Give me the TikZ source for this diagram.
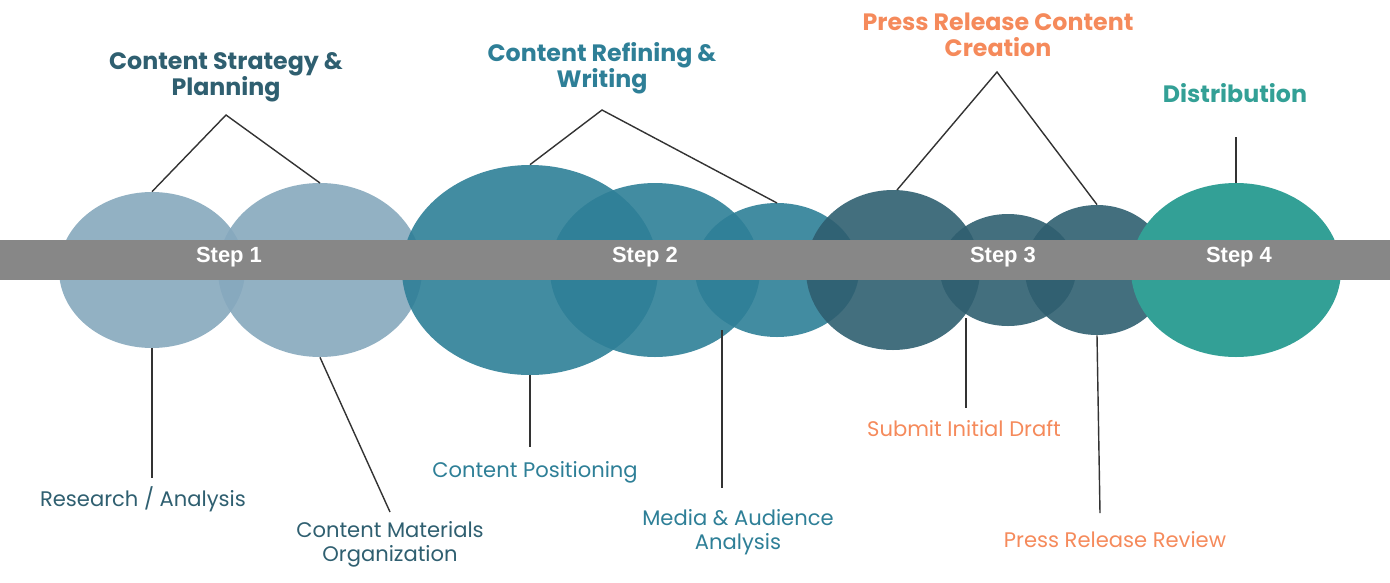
\documentclass[tikz,border=0pt]{standalone}
\usepackage{fontspec}
\setmainfont{Poppins}
\newfontfamily\stepfont{Liberation Sans}
\usetikzlibrary{shapes.geometric,positioning}
\definecolor{stone}{HTML}{86A8BD}
\definecolor{teal}{HTML}{2E7F97}
\definecolor{slate}{HTML}{2F5F70}
\definecolor{mint}{HTML}{33A096}
\definecolor{coral}{HTML}{F58A5B}
\definecolor{band}{HTML}{878787}
\newlength\px
\setlength\px{0.02cm}
\tikzset{
    % Bubbles
    bubble/.style={ellipse,fill=#1,fill opacity=.9,inner sep=0pt},
    % Texts
    title text/.style={font=\bfseries\fontsize{13.5}{15}\selectfont,align=center,text=#1},
    detail text/.style={font=\fontsize{12}{13.5}\selectfont,align=center,text=#1},
    step text/.style={font=\stepfont\bfseries\fontsize{12.5}{14}\selectfont,text=white},
    lead/.style={draw=black!80,line width=.8pt}
}
\begin{document}
\begin{tikzpicture}[x=0.02cm,y=-0.02cm]
    \useasboundingbox (0,0) rectangle (1390,582);
    % bubbles
    \node[bubble=stone,minimum width=186\px,minimum height=156\px] (b1) at (152,270) {};
    \node[bubble=stone,minimum width=204\px,minimum height=174\px] (b2) at (320,270) {};
    \node[bubble=teal,minimum width=256\px,minimum height=210\px] (b3) at (530,270) {};
    \node[bubble=teal,minimum width=210\px,minimum height=174\px] (b4) at (655,270) {};
    \node[bubble=teal,minimum width=164\px,minimum height=134\px] (b5) at (777,270) {};
    \node[bubble=slate,minimum width=174\px,minimum height=160\px] (b6) at (893,270) {};
    \node[bubble=slate,minimum width=136\px,minimum height=112\px] (b7) at (1008,270) {};
    \node[bubble=slate,minimum width=144\px,minimum height=130\px] (b8) at (1097,270) {};
    \node[bubble=mint,minimum width=210\px,minimum height=174\px,fill opacity=1] (b9) at (1236,270) {};
    % band
    \fill[band] (0,240) rectangle (1390,280);
    \node[step text] (s1) at (229,257) {Step 1};
    \node[step text] (s2) at (645,257) {Step 2};
    \node[step text] (s3) at (1003,257) {Step 3};
    \node[step text] (s4) at (1239,257) {Step 4};
    % titles
    \node[title text=slate] (t1) at (226,77) {Content Strategy \&\\Planning};
    \node[title text=teal] (t2) at (602,68) {Content Refining \&\\Writing};
    \node[title text=coral] (t3) at (998,35) {Press Release Content\\Creation};
    \node[title text=mint] (t4) at (1235,93) {Distribution};
    \coordinate (a1) at (226,115);
    \coordinate (a2) at (602,110);
    \coordinate (a3) at (997,72);
    \coordinate (a4) at (1236,137);
    \draw[lead] (b1.north) -- (a1) -- (320,183);
    \draw[lead] (b3.north) -- (a2) -- (777,203);
    \draw[lead] (897,190) -- (a3) -- (b8.north);
    \draw[lead] (a4) -- (b9.north);
    % details
    \node[detail text=slate] (l1) at (143,499) {Research / Analysis};
    \node[detail text=slate] (l2) at (390,544) {Content Materials\\Organization};
    \node[detail text=teal] (l3) at (535,472) {Content Positioning};
    \node[detail text=teal] (l4) at (738,532) {Media \& Audience\\Analysis};
    \node[detail text=coral] (l5) at (964,429) {Submit Initial Draft};
    \node[detail text=coral] (l6) at (1115,540) {Press Release Review};
    \draw[lead] (b1.south) -- (152,478);
    \draw[lead] (b2.south) -- (390,512);
    \draw[lead] (b3.south) -- (530,447);
    \draw[lead] (722,330) -- (722,488);
    \draw[lead] (966,318) -- (966,408);
    \draw[lead] (b8.south) -- (1100,513);
\end{tikzpicture}
\end{document}
